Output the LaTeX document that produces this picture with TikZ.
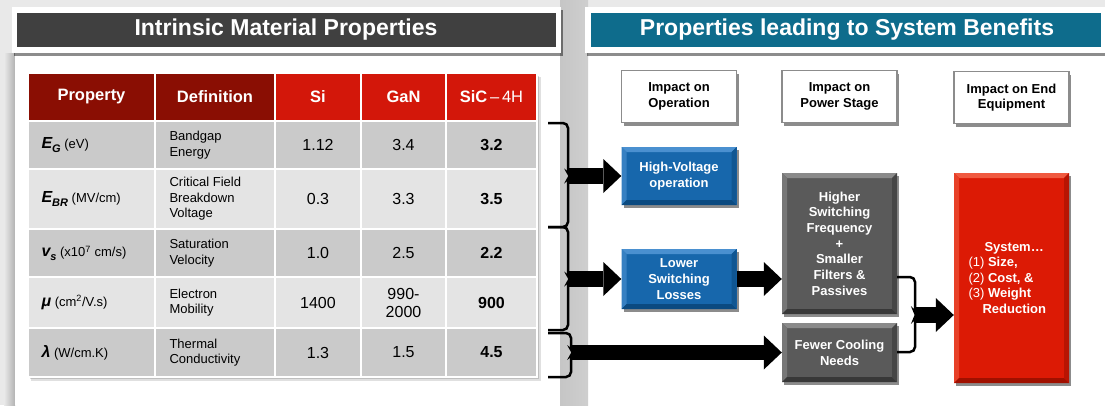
\documentclass[tikz,border=0pt]{standalone}
\usepackage{fontspec}
\setmainfont{Liberation Sans}
\usetikzlibrary{shadows,arrows.meta}
\definecolor{bgGray}{HTML}{E9E9E9}
\definecolor{titleDark}{HTML}{404040}
\definecolor{titleTeal}{HTML}{0E6C8C}
\definecolor{hdrDark}{HTML}{8A0E03}
\definecolor{hdrRed}{HTML}{D3170A}
\definecolor{rowDark}{HTML}{CACACA}
\definecolor{rowLight}{HTML}{E4E4E4}
\definecolor{boxBlue}{HTML}{1767AC}
\definecolor{blueLight}{HTML}{4A90D0}
\definecolor{blueDark}{HTML}{0B4A80}
\definecolor{boxGray}{HTML}{5A5A5A}
\definecolor{grayLight}{HTML}{8A8A8A}
\definecolor{grayDark}{HTML}{383838}
\definecolor{boxRed}{HTML}{DC1A05}
\definecolor{redLight}{HTML}{F05A40}
\definecolor{redDark}{HTML}{A01000}
\definecolor{frameGray}{HTML}{8C8C8C}
\newcommand\symb[1]{{\fontsize{16}{16}\selectfont\bfseries\itshape #1}}
\newcommand\symbsub[1]{\raisebox{-3.5pt}{\fontsize{11}{11}\selectfont\bfseries\itshape #1}}
\begin{document}
\begin{tikzpicture}[x=1pt,y=-1pt,
  title/.style={text=white,font=\fontsize{23}{27}\selectfont\bfseries},
  hdr/.style={text=white,font=\fontsize{16.5}{19}\selectfont\bfseries},
  val/.style={align=center,font=\fontsize{16}{18}\selectfont},
  sval/.style={align=center,font=\fontsize{16}{18}\selectfont\bfseries},
  defn/.style={anchor=west,align=left,font=\fontsize{13}{15.5}\selectfont},
  prop/.style={anchor=west,font=\fontsize{13}{15}\selectfont},
  shadowed/.style={drop shadow={shadow xshift=2pt,shadow yshift=-3pt,opacity=.45,fill=black}},
  hbox/.style={draw=frameGray,line width=1.5pt,fill=white,minimum width=115pt,minimum height=52pt,
    inner sep=0pt,align=center,font=\fontsize{13}{15.5}\selectfont\bfseries,shadowed},
  bev/.style n args={3}{fill=#1,path picture={
    \path (path picture bounding box.north west) coordinate (pnw)
          (path picture bounding box.north east) coordinate (pne)
          (path picture bounding box.south west) coordinate (psw)
          (path picture bounding box.south east) coordinate (pse);
    \fill[#2] (pnw) -- (pne) -- ([shift={(-5pt,-5pt)}]pne) -- ([shift={(5pt,-5pt)}]pnw) -- cycle;
    \fill[#2!60!#1] (pnw) -- ([shift={(5pt,-5pt)}]pnw) -- ([shift={(5pt,5pt)}]psw) -- (psw) -- cycle;
    \fill[#3] (psw) -- (pse) -- ([shift={(-5pt,5pt)}]pse) -- ([shift={(5pt,5pt)}]psw) -- cycle;
    \fill[#3!60!#1] (pse) -- (pne) -- ([shift={(-5pt,-5pt)}]pne) -- ([shift={(-5pt,5pt)}]pse) -- cycle;
  }},
  colbox/.style={minimum width=115pt,inner sep=0pt,align=center,text=white,
    font=\fontsize{13}{15.7}\selectfont\bfseries,shadowed},
  bluebox/.style={colbox,bev={boxBlue}{blueLight}{blueDark}},
  graybox/.style={colbox,bev={boxGray}{grayLight}{grayDark}},
  redbox/.style={colbox,bev={boxRed}{redLight}{redDark}},
  bigarrow/.style={line width=15.5pt,-{Triangle[length=18pt,width=34pt,line width=0pt]}},
  brk/.style={line width=2.5pt,rounded corners=5pt},
]
\useasboundingbox (0,0) rectangle (1105,405);
% background and panels
\fill[bgGray] (0,0) rectangle (1105,405);
\shade[left color=bgGray,right color=gray!60] (4,53) rectangle (15,405);
\fill[white] (15,53) rectangle (560,405);
\fill[white] (588,53) rectangle (1105,405);
\shade[left color=gray!45,middle color=gray!8,right color=gray!38] (560,0) rectangle (588,405);
% title frames
\fill[white,shadowed] (12,7) rectangle (561,53);
\fill[titleDark] (17,13) rectangle (556,47);
\fill[white,shadowed] (585,7) rectangle (1105,53);
\fill[titleTeal] (591,13) rectangle (1101,47);
\node[title] (tl) at (286,30) {Intrinsic Material Properties};
\node[title] (tr) at (847,30) {Properties leading to System Benefits};
% table
\fill[black,opacity=.12] (31,77) rectangle (541,381);
\fill[black,opacity=.15] (30,76) rectangle (539,379);
\foreach \a/\b/\c in {28/155/hdrDark,155/275/hdrDark,275/361/hdrRed,361/446/hdrRed,446/537/hdrRed}
  \filldraw[fill=\c,draw=white,line width=1.2pt] (\a,73) rectangle (\b,121);
\foreach \ya/\yb/\c in {121/169/rowDark,169/229/rowLight,229/277/rowDark,277/328/rowLight,328/377/rowDark}
  \foreach \a/\b in {28/155,155/275,275/361,361/446,446/537}
    \filldraw[fill=\c,draw=white,line width=1.2pt] (\a,\ya) rectangle (\b,\yb);
\node[hdr] (hP) at (91.5,97) {Property};
\node[hdr] (hD) at (215,97) {Definition};
\node[hdr] (hS) at (318,97) {Si};
\node[hdr] (hG) at (403.5,97) {GaN};
\node[hdr] (hC) at (491.5,97) {SiC\,{\mdseries –\,4H}};
% row 1
\node[prop] (p1) at (38,145) {\symb{E}\symbsub{G} (eV)};
\node[defn] (d1) at (166,145) {Bandgap\\Energy};
\node[val] (s1) at (318,145) {1.12};
\node[val] (g1) at (403.5,145) {3.4};
\node[sval] (c1) at (491.5,145) {3.2};
% row 2
\node[prop] (p2) at (38,199) {\symb{E}\symbsub{BR} (MV/cm)};
\node[defn] (d2) at (166,199) {Critical Field\\Breakdown\\Voltage};
\node[val] (s2) at (318,199) {0.3};
\node[val] (g2) at (403.5,199) {3.3};
\node[sval] (c2) at (491.5,199) {3.5};
% row 3
\node[prop] (p3) at (38,253) {\symb{v}\symbsub{s} (x10\textsuperscript{7} cm/s)};
\node[defn] (d3) at (166,253) {Saturation\\Velocity};
\node[val] (s3) at (318,253) {1.0};
\node[val] (g3) at (403.5,253) {2.5};
\node[sval] (c3) at (491.5,253) {2.2};
% row 4
\node[prop] (p4) at (38,302.5) {\symb{μ} (cm\textsuperscript{2}/V.s)};
\node[defn] (d4) at (166,302.5) {Electron\\Mobility};
\node[val] (s4) at (318,302.5) {1400};
\node[val] (g4) at (403.5,302.5) {990-\\2000};
\node[sval] (c4) at (491.5,302.5) {900};
% row 5
\node[prop] (p5) at (38,352.5) {\symb{λ} (W/cm.K)};
\node[defn] (d5) at (166,352.5) {Thermal\\Conductivity};
\node[val] (s5) at (318,352.5) {1.3};
\node[val] (g5) at (403.5,352.5) {1.5};
\node[sval] (c5) at (491.5,352.5) {4.5};
% right panel header boxes
\node[hbox] (iop) at (679,96.5) {Impact on\\Operation};
\node[hbox] (ips) at (839.5,96.5) {Impact on\\Power Stage};
\node[hbox] (iee) at (1011.5,97.5) {Impact on End\\Equipment};
% coloured boxes
\node[bluebox,minimum height=58pt] (hv) at (679,176) {High-Voltage\\operation};
\node[bluebox,minimum height=60pt] (lsl) at (679,279) {Lower\\Switching\\Losses};
\node[graybox,minimum height=141pt] (hsf) at (839.5,243.5) {Higher\\Switching\\Frequency\\+\\Smaller\\Filters \&\\Passives};
\node[graybox,minimum height=59pt] (fcn) at (839.5,352.5) {Fewer Cooling\\Needs};
\node[redbox,minimum height=210pt] (sys) at (1011.5,278) {};
\node[anchor=west,align=left,text=white,font=\fontsize{13}{15.5}\selectfont] (systxt) at (965,278)
  {\hspace*{16pt}\textbf{System…}\\(1) \textbf{Size,}\\(2) \textbf{Cost, \&}\\(3) \textbf{Weight}\\\hspace*{14pt}\textbf{Reduction}};
% braces
\draw[brk] (548,123) -- (568,123) -- (568,173) -- (572,176) -- (568,179) -- (568,227) -- (548,227);
\draw[brk] (548,227) -- (568,227) -- (568,276) -- (572,279) -- (568,282) -- (568,330) -- (548,330);
\draw[brk] (548,333) -- (571,333) -- (571,349.5) -- (575,352.5) -- (571,355.5) -- (571,377) -- (548,377);
\draw[brk] (897,277) -- (915,277) -- (915,312) -- (918,315) -- (915,318) -- (915,352) -- (897,352);
\coordinate (b1) at (569,176);
\coordinate (b2) at (569,279);
\coordinate (b3) at (572,352.5);
\coordinate (b5) at (916,315);
% arrows
\draw[bigarrow] (b1) -- (hv.west);
\draw[bigarrow] (b2) -- (lsl.west);
\draw[bigarrow] (b3) -- (fcn.west);
\draw[bigarrow] (lsl.east) -- (lsl.east -| hsf.west);
\draw[bigarrow] (b5) -- (b5 -| sys.west);
\end{tikzpicture}
\end{document}
